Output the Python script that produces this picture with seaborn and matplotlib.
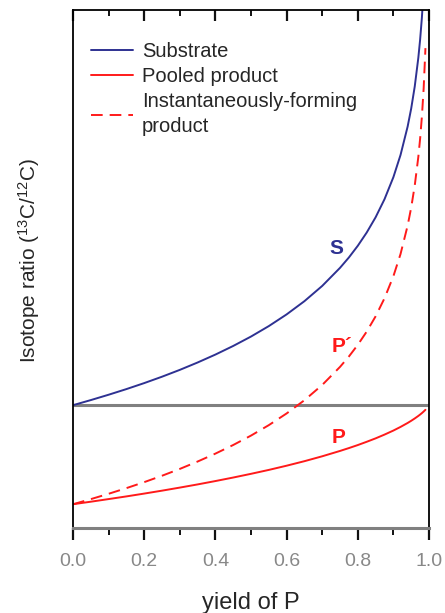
import matplotlib
matplotlib.use("Agg")
import matplotlib.pyplot as plt
import seaborn as sns
import pandas as pd
from matplotlib.ticker import MultipleLocator, NullLocator

# yield of P
yield_p = [0, 0.05, 0.1, 0.15, 0.2, 0.25, 0.3, 0.35, 0.4, 0.45, 0.5, 0.55, 0.6, 0.65,
           0.7, 0.75, 0.775, 0.8, 0.825, 0.85, 0.875, 0.9, 0.92, 0.94, 0.95, 0.96,
           0.97, 0.975, 0.98, 0.985, 0.99]
# isotope ratio (arbitrary delta-like units, 0 = initial ratio)
substrate = [0, 1.03, 2.11, 3.25, 4.46, 5.75, 7.13, 8.62, 10.22, 11.96, 13.86, 15.97,
             18.33, 21.00, 24.08, 27.73, 29.83, 32.19, 34.86, 37.94, 41.59, 46.05,
             50.52, 56.27, 59.91, 64.38, 70.13, 73.78, 78.24, 83.99, 92.10]
pooled = [-20, -19.49, -18.96, -18.42, -17.85, -17.26, -16.64, -16.00, -15.32, -14.61,
          -13.86, -13.07, -12.22, -11.31, -10.32, -9.24, -8.66, -8.05, -7.39, -6.70,
          -5.94, -5.12, -4.39, -3.59, -3.15, -2.68, -2.17, -1.89, -1.60, -1.28, -0.93]
instant = [-20, -18.97, -17.89, -16.75, -15.54, -14.25, -12.87, -11.38, -9.78, -8.04,
           -6.14, -4.03, -1.67, 1.00, 4.08, 7.73, 9.83, 12.19, 14.86, 17.94, 21.59,
           26.05, 30.52, 36.27, 39.91, 44.38, 50.13, 53.78, 58.24, 63.99, 72.10]

x_ticks = [0.0, 0.2, 0.4, 0.6, 0.8, 1.0]
x_tick_labels = ["0.0", "0.2", "0.4", "0.6", "0.8", "1.0"]

df = pd.DataFrame({"yield": yield_p, "S": substrate, "P": pooled, "Pi": instant})

sns.set_style("white")
plt.rcParams['font.family'] = ['Liberation Sans', 'DejaVu Sans']
plt.rcParams['mathtext.fontset'] = 'custom'
plt.rcParams['mathtext.rm'] = 'Liberation Sans'
plt.rcParams['mathtext.it'] = 'Liberation Sans:italic'
plt.rcParams['mathtext.bf'] = 'Liberation Sans:bold'

fig = plt.figure(figsize=(4.45, 6.13), dpi=100)
ax = fig.add_axes([73/445, 1 - 528/613, 356/445, 518/613])

navy = "#2e3192"
red = "#ff1a1a"

ax.axhline(0, color="#808080", lw=2.2, zorder=1)
sns.lineplot(data=df, x="yield", y="S", ax=ax, color=navy, lw=1.4, label="Substrate")
sns.lineplot(data=df, x="yield", y="P", ax=ax, color=red, lw=1.4, label="Pooled product")
sns.lineplot(data=df, x="yield", y="Pi", ax=ax, color=red, lw=1.4,
             linestyle=(0, (6, 3.6)),
             label="Instantaneously-forming\nproduct")

ax.set_xlim(0, 1.0)
ax.set_ylim(-24.8, 79.8)

ax.text(0.74, 31.6, "S", color=navy, fontsize=15, fontweight="bold",
        ha="center", va="center")
ax.text(0.757, 11.8, "P\u00b4", color=red, fontsize=15, fontweight="bold",
        ha="center", va="center")
ax.text(0.745, -6.6, "P", color=red, fontsize=15, fontweight="bold",
        ha="center", va="center")

ax.xaxis.set_major_locator(NullLocator())
ax.set_yticks([])
ax.set_xlabel("")

# bottom ticks pointing outward, with labels
bot = ax.secondary_xaxis("bottom")
bot.set_xticks(x_ticks)
bot.set_xticklabels(x_tick_labels)
bot.xaxis.set_minor_locator(MultipleLocator(0.1))
bot.tick_params(axis="x", which="major", direction="out", length=8.5, width=1.6,
                color="#111111", labelsize=14, labelcolor="#888888", pad=9.5,
                bottom=True, labelbottom=True)
bot.tick_params(axis="x", which="minor", direction="out", length=5, width=1.4,
                color="#111111", bottom=True)
bot.spines["bottom"].set_visible(False)
bot.set_xlabel("yield of P", fontsize=17, labelpad=16)

# top ticks pointing inward
top = ax.secondary_xaxis("top")
top.set_xticks(x_ticks)
top.xaxis.set_minor_locator(MultipleLocator(0.1))
top.tick_params(axis="x", which="major", direction="in", length=8, width=1.6,
                color="#111111", labeltop=False, top=True)
top.tick_params(axis="x", which="minor", direction="in", length=4.5, width=1.4,
                color="#111111", top=True)
top.set_xticklabels([])
top.spines["top"].set_visible(False)

for side in ["left", "right", "top"]:
    ax.spines[side].set_color("black")
    ax.spines[side].set_linewidth(1.3)
ax.spines["bottom"].set_color("#808080")
ax.spines["bottom"].set_linewidth(2.2)

ax.set_ylabel("Isotope ratio ($\\mathregular{^{13}}$C/$\\mathregular{^{12}}$C)",
              fontsize=15, labelpad=24)
ax.yaxis.set_label_coords(-0.086, 0.517)

leg = ax.legend(loc="upper left", bbox_to_anchor=(0.05, 0.938), frameon=False,
                fontsize=14.5, handlelength=2.1, handletextpad=0.45,
                labelspacing=0.3, borderaxespad=0.0, borderpad=0.0)
for t in leg.get_texts():
    t.set_linespacing(1.4)

fig.savefig("out.png", dpi=100)
